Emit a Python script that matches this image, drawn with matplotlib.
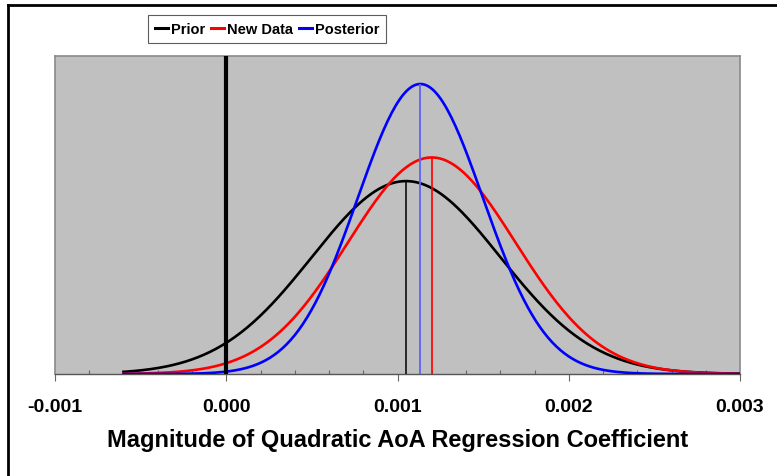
import numpy as np
import matplotlib
matplotlib.use('Agg')
from matplotlib import pyplot as plt
from matplotlib.lines import Line2D
from matplotlib.ticker import MultipleLocator, FormatStrFormatter

plt.rcParams['font.family'] = ['Liberation Sans', 'DejaVu Sans']

# normal curves (mean, sd)
prior_mean, prior_sd = 0.00105, 0.00055
data_mean, data_sd = 0.00120, 0.00049
x_start, x_end = -0.0006, 0.003
labels = ['Prior', 'New Data', 'Posterior']
colors = ['black', 'red', 'blue']

# posterior of two normals
post_prec = 1 / prior_sd**2 + 1 / data_sd**2
post_sd = np.sqrt(1 / post_prec)
post_mean = (prior_mean / prior_sd**2 + data_mean / data_sd**2) / post_prec

def pdf(x, m, s):
    return np.exp(-0.5 * ((x - m) / s)**2) / (s * np.sqrt(2 * np.pi))

x = np.linspace(x_start, x_end, 300)
means = [prior_mean, data_mean, post_mean]
sds = [prior_sd, data_sd, post_sd]

fig = plt.figure(figsize=(7.77, 4.77), dpi=100)
ax = fig.add_axes([55/777, 1 - 375/477, 685/777, 318/477])
ax.set_facecolor('#C0C0C0')

peak = pdf(post_mean, post_mean, post_sd)
ymax = peak * 318 / 290

for m, s, c, lab in zip(means, sds, colors, labels):
    ax.plot(x, pdf(x, m, s), color=c, lw=1.9, label=lab, zorder=3)

# mean markers
ax.vlines(prior_mean, 0, pdf(prior_mean, prior_mean, prior_sd), color='black', lw=1.1, zorder=4)
ax.vlines(data_mean, 0, pdf(data_mean, data_mean, data_sd), color='red', lw=1.2, zorder=4)
ax.vlines(post_mean, 0, peak, color='#6060ff', lw=1.3, zorder=4)
ax.vlines(0.0, 0, ymax, color='black', lw=3, zorder=5)

ax.set_xlim(-0.001, 0.003)
ax.set_ylim(0, ymax)
ax.set_yticks([])
ax.xaxis.set_major_locator(MultipleLocator(0.001))
ax.xaxis.set_minor_locator(MultipleLocator(0.0002))
ax.xaxis.set_major_formatter(FormatStrFormatter('%.3f'))
ax.tick_params(axis='x', which='major', direction='out', length=5, width=0.8,
               color='#666666', pad=12, labelsize=14)
ax.tick_params(axis='x', which='minor', direction='in', length=3, width=0.8, color='#666666')
for lbl in ax.get_xticklabels():
    lbl.set_fontweight('bold')

for side in ['top', 'right', 'left']:
    ax.spines[side].set_color('#8a8a8a')
    ax.spines[side].set_linewidth(1.2)
ax.spines['bottom'].set_color('#555555')
ax.spines['bottom'].set_linewidth(1.0)

ax.set_xlabel('Magnitude of Quadratic AoA Regression Coefficient',
              fontsize=17, fontweight='bold', labelpad=10)

leg = ax.legend(loc='center', bbox_to_anchor=((267 - 55) / 685, (375 - 30) / 318),
                ncol=3, frameon=True, fancybox=False, handlelength=0.9,
                handletextpad=0.2, columnspacing=0.4, borderpad=0.45,
                prop={'weight': 'bold', 'size': 10.5})
leg.get_frame().set_edgecolor('#333333')
leg.get_frame().set_linewidth(0.8)
for h in leg.get_lines():
    h.set_linewidth(2.2)

# outer frame (only top and left edges are visible)
fx = 8 / 777
fy = 1 - 6 / 477
fig.add_artist(Line2D([fx, 1], [fy, fy], color='black', lw=2, transform=fig.transFigure))
fig.add_artist(Line2D([fx, fx], [0, fy], color='black', lw=2, transform=fig.transFigure))

fig.savefig('out.png', dpi=100)
